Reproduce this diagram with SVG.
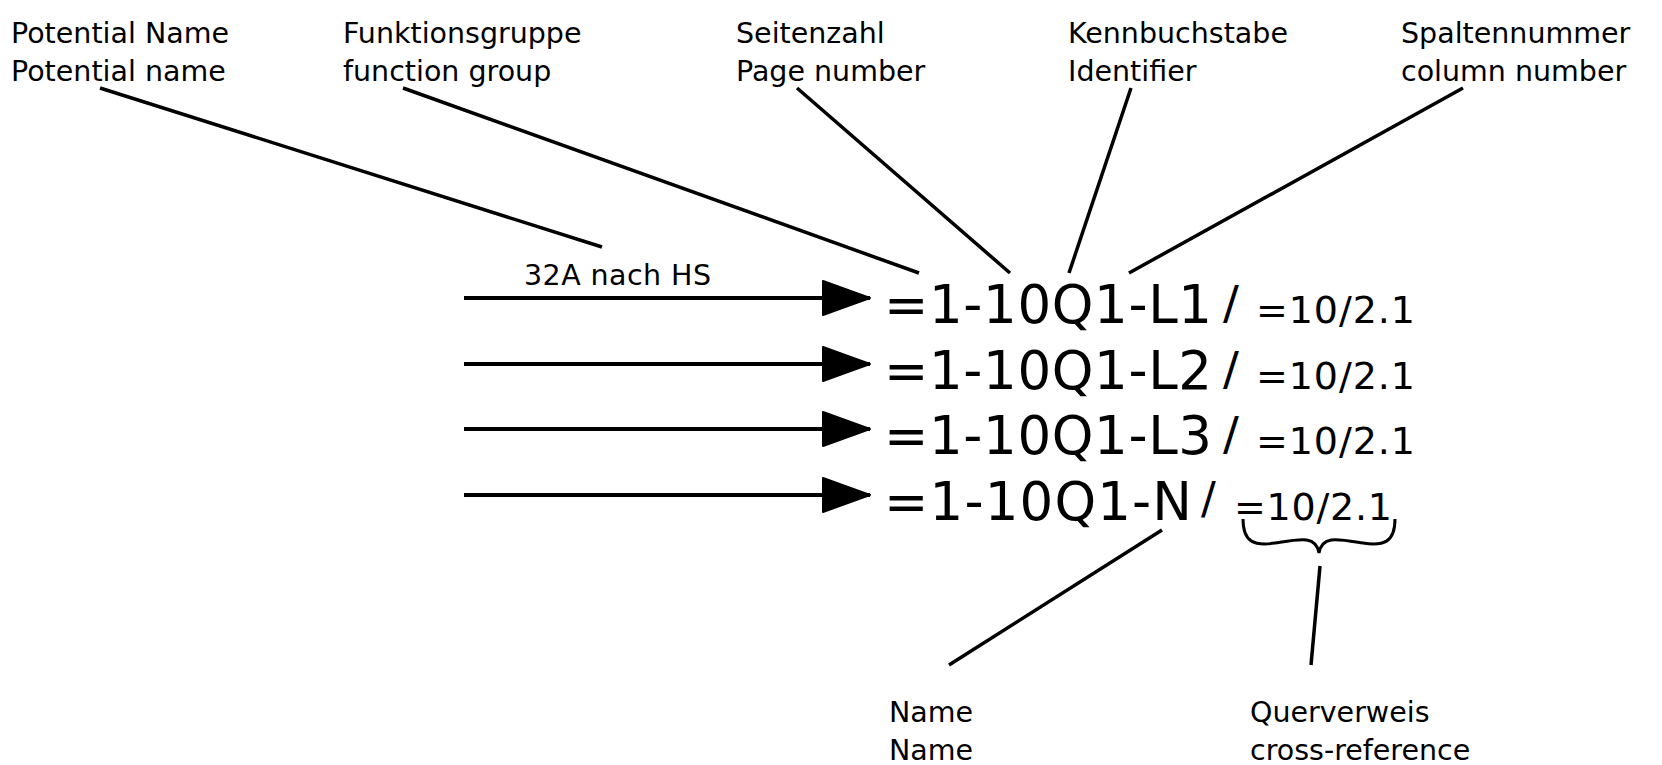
<svg xmlns="http://www.w3.org/2000/svg" width="1662" height="765" viewBox="0 0 1662 765">
  <defs>
    <style>
      .lbl { font-family: "DejaVu Sans", Verdana, sans-serif; font-size: 28.5px; fill: #000; }
      .big { font-family: "DejaVu Sans", Verdana, sans-serif; font-size: 53px; fill: #000; }
      .sm { font-family: "DejaVu Sans", Verdana, sans-serif; font-size: 38px; fill: #000; }
      .sl { font-family: "DejaVu Sans", Verdana, sans-serif; font-size: 47px; fill: #000; }
      .lead { stroke: #000; stroke-width: 3.5; fill: none; stroke-linecap: butt; }
      .arr { stroke: #000; stroke-width: 4; fill: none; }
    </style>
    <marker id="ah" markerUnits="userSpaceOnUse" markerWidth="52" markerHeight="40" refX="48" refY="18" orient="auto">
      <path d="M1,1 L48,18 L1,35 Z" fill="#000" stroke="#000" stroke-width="2" stroke-linejoin="round"/>
    </marker>
  </defs>
  <rect width="1662" height="765" fill="#fff"/>

  <g id="label-potential">
    <text class="lbl" x="11" y="43">Potential Name</text>
    <text class="lbl" x="11" y="81">Potential name</text>
  </g>
  <g id="label-function-group">
    <text class="lbl" x="343" y="43">Funktionsgruppe</text>
    <text class="lbl" x="343" y="81">function group</text>
  </g>
  <g id="label-page">
    <text class="lbl" x="736" y="43">Seitenzahl</text>
    <text class="lbl" x="736" y="81">Page number</text>
  </g>
  <g id="label-identifier">
    <text class="lbl" x="1068" y="43">Kennbuchstabe</text>
    <text class="lbl" x="1068" y="81">Identifier</text>
  </g>
  <g id="label-column">
    <text class="lbl" x="1401" y="43">Spaltennummer</text>
    <text class="lbl" x="1401" y="81">column number</text>
  </g>
  <g id="label-32a">
    <text class="lbl" x="524" y="285" textLength="187">32A nach HS</text>
  </g>

  <g id="row-l1">
    <text class="big" x="884" y="323" textLength="328">=1-10Q1-L1</text>
    <text class="sl" x="1223" y="319">/</text>
    <text class="sm" x="1256" y="323" textLength="159">=10/2.1</text>
  </g>
  <g id="row-l2">
    <text class="big" x="884" y="389" textLength="328">=1-10Q1-L2</text>
    <text class="sl" x="1223" y="385">/</text>
    <text class="sm" x="1256" y="389" textLength="159">=10/2.1</text>
  </g>
  <g id="row-l3">
    <text class="big" x="884" y="454" textLength="328">=1-10Q1-L3</text>
    <text class="sl" x="1223" y="450">/</text>
    <text class="sm" x="1256" y="454" textLength="159">=10/2.1</text>
  </g>
  <g id="row-n">
    <text class="big" x="884" y="520" textLength="308">=1-10Q1-N</text>
    <text class="sl" x="1201" y="514" style="font-size:44px">/</text>
    <text class="sm" x="1234" y="520" textLength="158">=10/2.1</text>
  </g>

  <g id="brace">
    <path class="lead" style="stroke-width:3" d="M1243,519 C1243,543 1255,546 1275,543 C1300,539 1316,535 1319,553 C1322,535 1338,539 1363,543 C1383,546 1395,543 1395,519"/>
  </g>

  <g id="label-name">
    <text class="lbl" x="889" y="722">Name</text>
    <text class="lbl" x="889" y="760">Name</text>
  </g>
  <g id="label-crossref">
    <text class="lbl" x="1250" y="722">Querverweis</text>
    <text class="lbl" x="1250" y="760">cross-reference</text>
  </g>

  <g id="connectors">
    <line class="lead" x1="100" y1="88" x2="602" y2="247"/>
    <line class="lead" x1="403" y1="88" x2="919" y2="273"/>
    <line class="lead" x1="797" y1="88" x2="1010" y2="273"/>
    <line class="lead" x1="1131" y1="88" x2="1069" y2="273"/>
    <line class="lead" x1="1463" y1="88" x2="1129" y2="273"/>
    <line class="lead" x1="1162" y1="530" x2="949" y2="665"/>
    <line class="lead" x1="1320" y1="566" x2="1311" y2="665"/>
    <line class="arr" x1="464" y1="298" x2="870" y2="298" marker-end="url(#ah)"/>
    <line class="arr" x1="464" y1="364" x2="870" y2="364" marker-end="url(#ah)"/>
    <line class="arr" x1="464" y1="429" x2="870" y2="429" marker-end="url(#ah)"/>
    <line class="arr" x1="464" y1="495" x2="870" y2="495" marker-end="url(#ah)"/>
  </g>
</svg>
